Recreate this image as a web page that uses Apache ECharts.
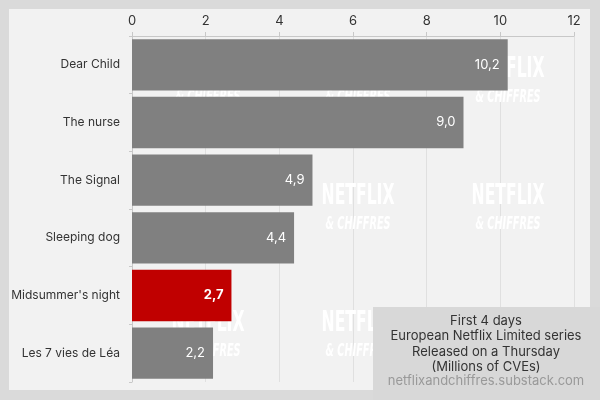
<!DOCTYPE html>
<html>
<head>
<meta charset="utf-8">
<style>
html,body{margin:0;padding:0;background:#dadada;}
#c{width:600px;height:400px;}
</style>
<script src="https://cdn.jsdelivr.net/npm/echarts@6/dist/echarts.min.js"></script>
</head>
<body>
<div id="c"></div>
<script>
const categories = ["Dear Child", "The nurse", "The Signal", "Sleeping dog", "Midsummer's night", "Les 7 vies de Léa"];
const values = [10.2, 9.0, 4.9, 4.4, 2.7, 2.2];
const highlight = "Midsummer's night";
const noteLines = ["First 4 days", "European Netflix Limited series", "Released on a Thursday", "(Millions of CVEs)"];
const sourceText = "netflixandchiffres.substack.com";
const FONT = "Inter, Roboto, sans-serif";

const chart = echarts.init(document.getElementById('c'), null, {renderer: 'canvas'});

const wm = [];
[208, 358, 508].forEach(function (x) {
  [70, 197, 324].forEach(function (y) {
    wm.push({type: 'text', x: x, y: y, z: 1, silent: true, scaleX: 0.62,
      style: {text: 'NETFLIX', fill: '#ffffff', font: 'bold 28px "DejaVu Sans Condensed", sans-serif', textAlign: 'center', textVerticalAlign: 'middle'}});
    wm.push({type: 'text', x: x, y: y + 27, z: 1, silent: true, scaleX: 0.6,
      style: {text: '& CHIFFRES', fill: '#ffffff', font: 'italic bold 18px "DejaVu Sans Condensed", sans-serif', textAlign: 'center', textVerticalAlign: 'middle'}});
  });
});

const option = {
  backgroundColor: '#dadada',
  animation: false,
  graphic: [
    {type: 'rect', shape: {x: 9, y: 9, width: 581, height: 381}, style: {fill: '#f2f2f2'}, z: -10, silent: true}
  ].concat(wm).concat([
    {type: 'rect', shape: {x: 373, y: 307, width: 227, height: 93}, style: {fill: '#d8d8d8'}, z: 10, silent: true},
    {type: 'text', x: 486, y: 313, z: 11, silent: true,
      style: {text: noteLines.join('\n'), fill: '#333', font: '13px ' + FONT, textAlign: 'center', lineHeight: 15.5}},
    {type: 'text', x: 486, y: 375, z: 11, silent: true,
      style: {text: sourceText, fill: '#999', font: '13px ' + FONT, textAlign: 'center'}}
  ]),
  grid: {left: 132, right: 26, top: 36, bottom: 18, containLabel: false},
  xAxis: {
    type: 'value', position: 'top', min: 0, max: 12, interval: 2,
    axisLine: {show: true, lineStyle: {color: '#c8c8c8'}},
    axisTick: {show: true, length: 4, lineStyle: {color: '#c8c8c8'}},
    axisLabel: {color: '#333', fontSize: 13, fontFamily: FONT, margin: 8},
    splitLine: {show: true, lineStyle: {color: '#e0e0e0'}}
  },
  yAxis: {
    type: 'category', data: categories, inverse: true,
    axisLine: {show: true, lineStyle: {color: '#c8c8c8'}},
    axisTick: {show: true, length: 3, lineStyle: {color: '#c8c8c8'}},
    axisLabel: {color: '#333', fontSize: 12, fontFamily: FONT, margin: 12}
  },
  series: [{
    type: 'bar', z: 2,
    barCategoryGap: '11%',
    data: values.map(function (v, i) {
      const hi = categories[i] === highlight;
      return {value: v, itemStyle: {color: hi ? '#c00000' : '#808080'},
        label: {fontWeight: hi ? 'bold' : 'normal'}};
    }),
    label: {
      show: true, position: 'insideRight', color: '#fff', fontSize: 13, fontFamily: FONT, distance: 8,
      formatter: function (p) { return p.value.toFixed(1).replace('.', ','); }
    }
  }]
};
chart.setOption(option);
</script>
</body>
</html>
